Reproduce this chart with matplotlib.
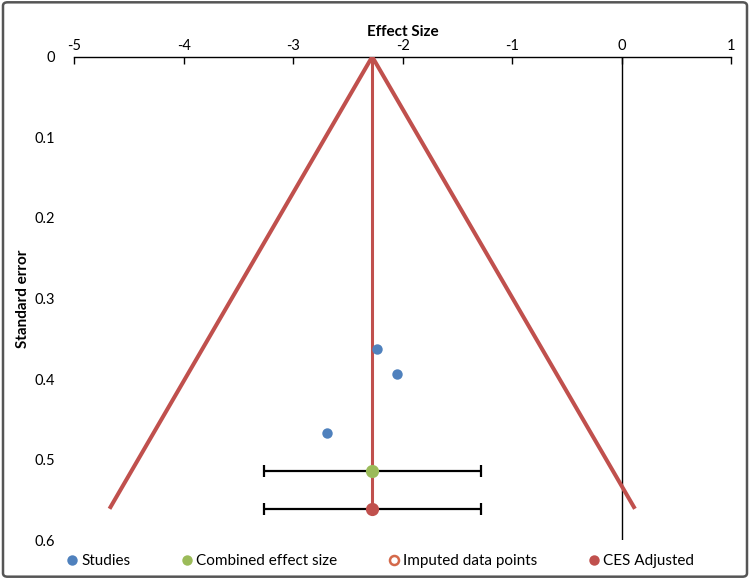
"""Funnel plot: effect size vs standard error (trim-and-fill style)."""

import matplotlib
matplotlib.use('Agg')
import matplotlib.pyplot as plt
from matplotlib.lines import Line2D
from matplotlib.patches import FancyBboxPatch

plt.rcParams.update({
    'font.family': ['Lato', 'DejaVu Sans'],
    'font.size': 10,
    'axes.unicode_minus': False,
})

# data
STUDY_ES = [-2.24, -2.05, -2.69]
STUDY_SE = [0.363, 0.394, 0.467]
CES = -2.28          # combined effect size
CES_SE = 0.514
CES_CI = [-3.27, -1.29]
ADJ = -2.28          # CES adjusted
ADJ_SE = 0.561
ADJ_CI = [-3.27, -1.29]
FUNNEL_X = [-4.68, -2.28, 0.12]
FUNNEL_Y = [0.561, 0.0, 0.561]

BLUE = '#4F81BD'
GREEN = '#9BBB59'
RED = '#C0504D'
ORANGE = '#D4694A'


def main():
    fig = plt.figure(figsize=(7.5, 5.79), dpi=100)
    ax = fig.add_axes([0.0993, 0.067, 0.8757, 0.835])

    # funnel + centre line
    ax.plot(FUNNEL_X, FUNNEL_Y, color=RED, lw=2.9, solid_capstyle='butt', zorder=3)
    ax.plot([ADJ, ADJ], [0, ADJ_SE], color=RED, lw=2.2, zorder=3)
    ax.axvline(0, color='black', lw=1.0, zorder=2)

    # confidence intervals
    ax.errorbar([CES], [CES_SE], xerr=[[CES - CES_CI[0]], [CES_CI[1] - CES]],
                fmt='none', ecolor='black', elinewidth=1.6, capsize=4,
                capthick=1.6, zorder=4)
    ax.errorbar([ADJ], [ADJ_SE], xerr=[[ADJ - ADJ_CI[0]], [ADJ_CI[1] - ADJ]],
                fmt='none', ecolor='black', elinewidth=1.6, capsize=4,
                capthick=1.6, zorder=4)

    ax.plot(STUDY_ES, STUDY_SE, 'o', color=BLUE, ms=7.5, mec='none', zorder=5)
    ax.plot([CES], [CES_SE], 'o', color=GREEN, ms=9.5, mec='none', zorder=5)
    ax.plot([ADJ], [ADJ_SE], 'o', color=RED, ms=9.5, mec='none', zorder=5)

    ax.set_xlim(-5, 1)
    ax.set_ylim(0.6, 0)
    ax.set_xticks(range(-5, 2))
    ax.set_yticks([0, 0.1, 0.2, 0.3, 0.4, 0.5, 0.6])
    ax.set_yticklabels(['0', '0.1', '0.2', '0.3', '0.4', '0.5', '0.6'])
    ax.xaxis.tick_top()
    ax.xaxis.set_label_position('top')
    ax.tick_params(axis='x', direction='in', length=5, width=1.0, pad=3,
                   labelsize=10.5)
    ax.tick_params(axis='y', length=0, pad=14, labelsize=10.5)
    for side in ('left', 'right', 'bottom'):
        ax.spines[side].set_visible(False)
    ax.spines['top'].set_linewidth(1.0)
    ax.set_xlabel('Effect Size', fontweight='bold', fontsize=11, labelpad=2)
    ax.set_ylabel('Standard error', fontweight='bold', fontsize=11, labelpad=3)

    handles = [
        Line2D([], [], ls='none', marker='o', color=BLUE, ms=7.5, mec='none'),
        Line2D([], [], ls='none', marker='o', color=GREEN, ms=7.5, mec='none'),
        Line2D([], [], ls='none', marker='o', mfc='white', mec=ORANGE, mew=1.8, ms=6.5),
        Line2D([], [], ls='none', marker='o', color=RED, ms=7.5, mec='none'),
    ]
    labels = ['Studies', 'Combined effect size', 'Imputed data points', 'CES Adjusted']
    fig.legend(handles, labels, loc='lower left', ncol=4, frameon=False,
               bbox_to_anchor=(0.07, 0.0, 0.87, 0.06), mode='expand',
               handletextpad=0.0, handlelength=1.2, fontsize=11,
               borderaxespad=0.3)

    fig.patches.append(FancyBboxPatch(
        (0.004, 0.004), 0.992, 0.992, boxstyle='round,pad=0,rounding_size=0.006',
        transform=fig.transFigure, fill=False, edgecolor='#555555', lw=1.8))

    fig.savefig('out.png', dpi=100)
    plt.close(fig)


if __name__ == '__main__':
    main()
